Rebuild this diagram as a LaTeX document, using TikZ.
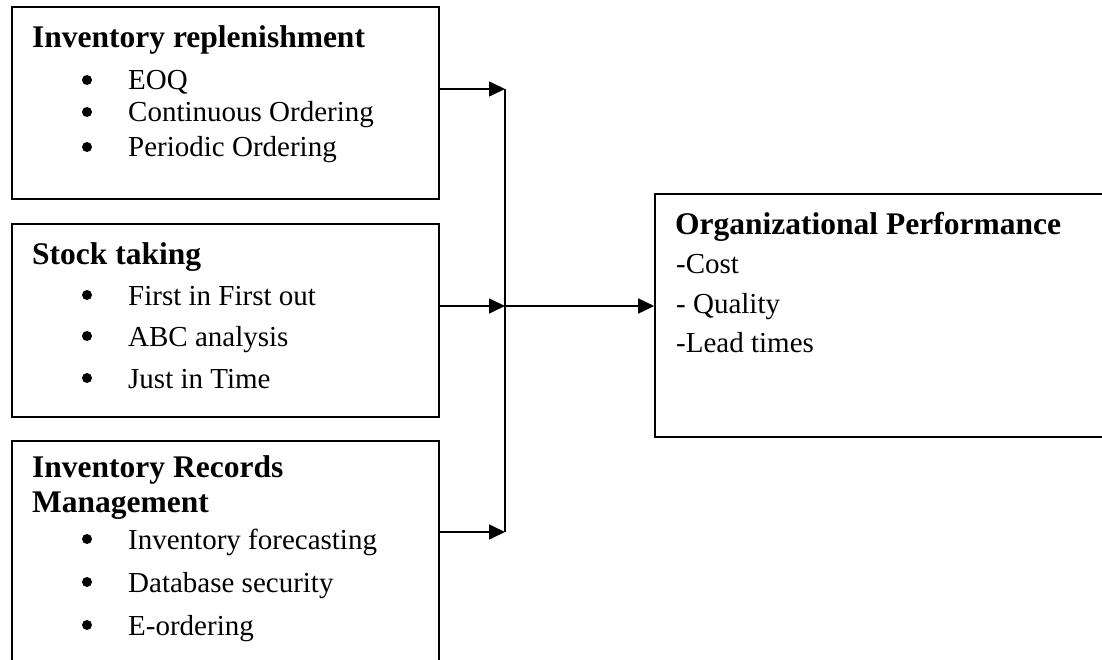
\documentclass[tikz,border=0pt]{standalone}
\usepackage{fontspec}
\setmainfont{Liberation Serif}
\usetikzlibrary{arrows.meta}

\begin{document}
\begin{tikzpicture}[x=1pt,y=-1pt,
  box/.style={draw,line width=1.6pt,inner sep=0pt},
  head/.style={anchor=base west,inner sep=0pt,font=\fontsize{31.5}{36}\selectfont\bfseries},
  item/.style={anchor=base west,inner sep=0pt,font=\fontsize{29}{34}\selectfont},
  dot/.style={circle,fill,inner sep=0pt,minimum size=10pt},
  arr/.style={line width=1.6pt,-{Triangle[length=16pt,width=15pt]}}]
  \useasboundingbox (0,0) rectangle (1102,660);
  \clip (0,0) rectangle (1102,660);
  % boxes
  \node[box,minimum width=427pt,minimum height=192pt] (rep) at (225.5,103) {};
  \node[box,minimum width=427pt,minimum height=193pt] (stock) at (225.5,320.5) {};
  \node[box,minimum width=427pt,minimum height=240pt] (rec) at (225.5,561) {};
  \node[box,minimum width=455pt,minimum height=243pt] (perf) at (882.5,315.5) {};
  % texts
  \node[head] (rep-h) at (32,48) {Inventory replenishment};
  \foreach \y/\t in {90/EOQ,122/Continuous Ordering,157/Periodic Ordering}{
    \node[dot] (rep-b\y) at (87,\y-10) {};
    \node[item] (rep-t\y) at (128,\y) {\t};}
  \node[head] (stock-h) at (32,265) {Stock taking};
  \foreach \y/\t in {305/First in First out,346/ABC analysis,388/Just in Time}{
    \node[dot] (stock-b\y) at (87,\y-10) {};
    \node[item] (stock-t\y) at (128,\y) {\t};}
  \node[head] (rec-h1) at (32,477) {Inventory Records};
  \node[head] (rec-h2) at (32,512) {Management};
  \foreach \y/\t in {549/Inventory forecasting,592/Database security,635/E-ordering}{
    \node[dot] (rec-b\y) at (87,\y-10) {};
    \node[item] (rec-t\y) at (128,\y) {\t};}
  \node[head] (perf-h) at (675,235) {Organizational Performance};
  \foreach \y/\t in {273/-Cost,313/- Quality,352/-Lead times}{
    \node[item] (perf-t\y) at (676,\y) {\t};}
  % connectors
  \coordinate (jtop) at (505,89);
  \coordinate (jmid) at (505,306);
  \coordinate (jbot) at (505,532);
  \draw[line width=1.6pt] (jtop) -- (jbot);
  \draw[arr] (rep.east |- jtop) -- (jtop);
  \draw[arr] (stock.east |- jmid) -- (jmid);
  \draw[arr] (rec.east |- jbot) -- (jbot);
  \draw[arr] (jmid) -- (perf.west |- jmid);
\end{tikzpicture}
\end{document}
